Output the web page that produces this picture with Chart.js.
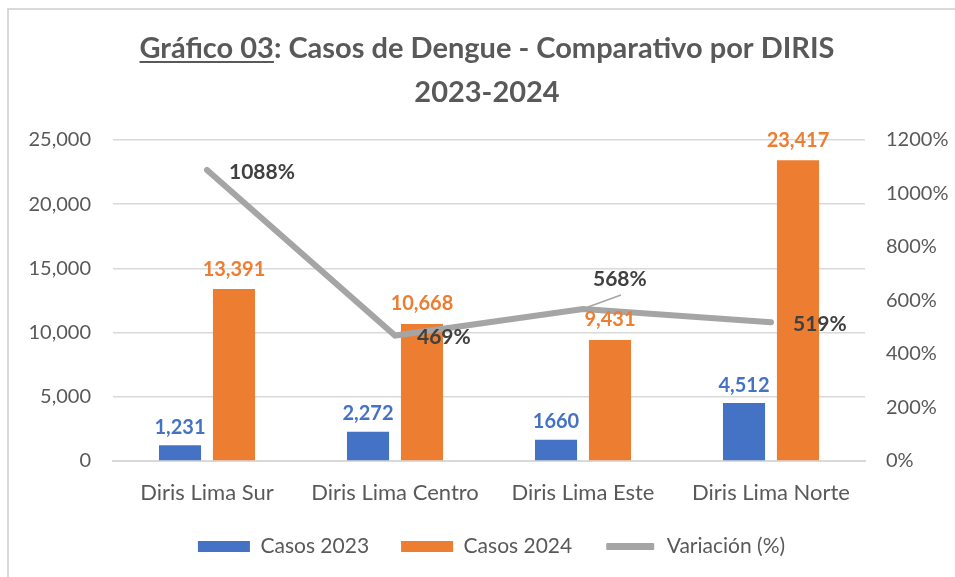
<!DOCTYPE html>
<html>
<head>
<meta charset="utf-8">
<script src="https://cdn.jsdelivr.net/npm/chart.js@4.4.1/dist/chart.umd.min.js"></script>
<style>
    html, body { margin: 0; padding: 0; background: #fff; }
    #wrap { position: relative; width: 955px; height: 577px; }
    #frame { position: absolute; left: 7px; top: 8px; right: 0; bottom: 0;
             border-top: 2px solid #d9d9d9; border-left: 2px solid #d9d9d9; }
    canvas { position: absolute; left: 0; top: 0; }
</style>
</head>
<body>
<div id="wrap">
    <div id="frame"></div>
    <canvas id="grafico03" width="955" height="577"></canvas>
</div>
<script>
// data
const diris = ["Diris Lima Sur", "Diris Lima Centro", "Diris Lima Este", "Diris Lima Norte"];
const casos2023 = [1231, 2272, 1660, 4512];
const casos2024 = [13391, 10668, 9431, 23417];
const variacion = [1088, 469, 568, 519];
// labels as printed on the chart (the 1660 one has no thousands separator)
const labels2023 = ["1,231", "2,272", "1660", "4,512"];
const labels2024 = ["13,391", "10,668", "9,431", "23,417"];
const tituloLinea1 = "Gráfico 03: Casos de Dengue - Comparativo por DIRIS";
const tituloSubrayado = "Gráfico 03";
const tituloLinea2 = "2023-2024";

const FONT = "Lato, 'Open Sans', sans-serif";
const GREY_TEXT = "#595959";

//draws the two-line title with the underlined part
const titlePlugin = {
    id: "titulo",
    afterDraw(chart) {
        const ctx = chart.ctx;
        ctx.save();
        ctx.font = "bold 29px " + FONT;
        ctx.fillStyle = GREY_TEXT;
        ctx.textBaseline = "alphabetic";
        ctx.textAlign = "left";
        const cx = 487;
        const w1 = ctx.measureText(tituloLinea1).width;
        const x1 = cx - w1 / 2;
        ctx.fillText(tituloLinea1, x1, 58);
        const wu = ctx.measureText(tituloSubrayado).width;
        ctx.fillRect(x1, 61, wu, 2);
        const w2 = ctx.measureText(tituloLinea2).width;
        ctx.fillText(tituloLinea2, cx - w2 / 2, 102);
        ctx.restore();
    }
};

//value labels on the bars and the line
const labelPlugin = {
    id: "etiquetas",
    afterDatasetsDraw(chart) {
        const ctx = chart.ctx;
        ctx.save();
        ctx.font = "bold 20px " + FONT;
        ctx.textAlign = "center";
        ctx.textBaseline = "bottom";

        const m0 = chart.getDatasetMeta(0);
        ctx.fillStyle = "#4472c4";
        m0.data.forEach((bar, i) => ctx.fillText(labels2023[i], bar.x, bar.y - 8));

        const m1 = chart.getDatasetMeta(1);
        ctx.fillStyle = "#ed7d31";
        m1.data.forEach((bar, i) => ctx.fillText(labels2024[i], bar.x, bar.y - 10));

        const m2 = chart.getDatasetMeta(2);
        ctx.font = "bold 21px " + FONT;
        ctx.fillStyle = "#404040";
        ctx.textAlign = "left";
        ctx.textBaseline = "middle";
        m2.data.forEach((pt, i) => {
            const txt = variacion[i] + "%";
            if (i === 2) {
                // this one was dragged up with a leader line
                ctx.strokeStyle = "#a5a5a5";
                ctx.lineWidth = 1.5;
                ctx.beginPath();
                ctx.moveTo(pt.x + 5, pt.y - 2);
                ctx.lineTo(pt.x + 38, pt.y - 14);
                ctx.stroke();
                ctx.fillText(txt, pt.x + 10, pt.y - 30);
            } else {
                ctx.fillText(txt, pt.x + 22, pt.y + 2);
            }
        });
        ctx.restore();
    }
};

const canvas = document.querySelector("#grafico03");

new Chart(canvas, {
    type: "bar",
    data: {
        labels: diris,
        datasets: [
            {
                label: "Casos 2023",
                data: casos2023,
                backgroundColor: "#4472c4",
                yAxisID: "y",
                order: 2,
                categoryPercentage: 0.574,
                barPercentage: 0.78
            },
            {
                label: "Casos 2024",
                data: casos2024,
                backgroundColor: "#ed7d31",
                yAxisID: "y",
                order: 2,
                categoryPercentage: 0.574,
                barPercentage: 0.78
            },
            {
                label: "Variación (%)",
                data: variacion,
                type: "line",
                yAxisID: "y1",
                borderColor: "#a5a5a5",
                backgroundColor: "#a5a5a5",
                borderWidth: 6,
                pointRadius: 0,
                borderCapStyle: "round",
                order: 1
            }
        ]
    },
    options: {
        responsive: false,
        animation: false,
        devicePixelRatio: 1,
        layout: { padding: { top: 140, left: 28, right: 0, bottom: 10 } },
        plugins: {
            title: { display: false },
            tooltip: { enabled: false },
            legend: {
                position: "bottom",
                labels: {
                    color: GREY_TEXT,
                    font: { family: FONT, size: 21 },
                    boxWidth: 52,
                    boxHeight: 11,
                    padding: 32,
                    generateLabels(chart) {
                        return chart.data.datasets.map((ds, i) => ({
                            text: ds.label,
                            fillStyle: ds.backgroundColor,
                            strokeStyle: ds.type === "line" ? "#ffffff" : ds.backgroundColor,
                            lineWidth: ds.type === "line" ? 4 : 0,
                            borderRadius: ds.type === "line" ? 3 : 0,
                            fontColor: GREY_TEXT,
                            hidden: false,
                            datasetIndex: i
                        }));
                    }
                }
            }
        },
        scales: {
            x: {
                grid: { display: false, drawTicks: false },
                border: { color: "#d9d9d9", width: 2 },
                ticks: { color: GREY_TEXT, font: { family: FONT, size: 22 }, padding: 19 },
                afterFit(scale) { scale.height = 43; }
            },
            y: {
                position: "left",
                min: 0,
                max: 25000,
                grid: { color: "#d9d9d9", lineWidth: 1.5, drawTicks: false },
                border: { display: false },
                ticks: {
                    stepSize: 5000,
                    color: GREY_TEXT,
                    font: { family: FONT, size: 20 },
                    padding: 22,
                    callback: v => v.toLocaleString("en-US")
                },
                afterFit(scale) { scale.width = 85; }
            },
            y1: {
                position: "right",
                min: 0,
                max: 1200,
                grid: { display: false, drawTicks: false },
                border: { display: false },
                ticks: {
                    stepSize: 200,
                    color: GREY_TEXT,
                    font: { family: FONT, size: 20 },
                    padding: 21,
                    callback: v => v + "%"
                },
                afterFit(scale) { scale.width = 90; }
            }
        }
    },
    plugins: [titlePlugin, labelPlugin]
});
</script>
</body>
</html>
